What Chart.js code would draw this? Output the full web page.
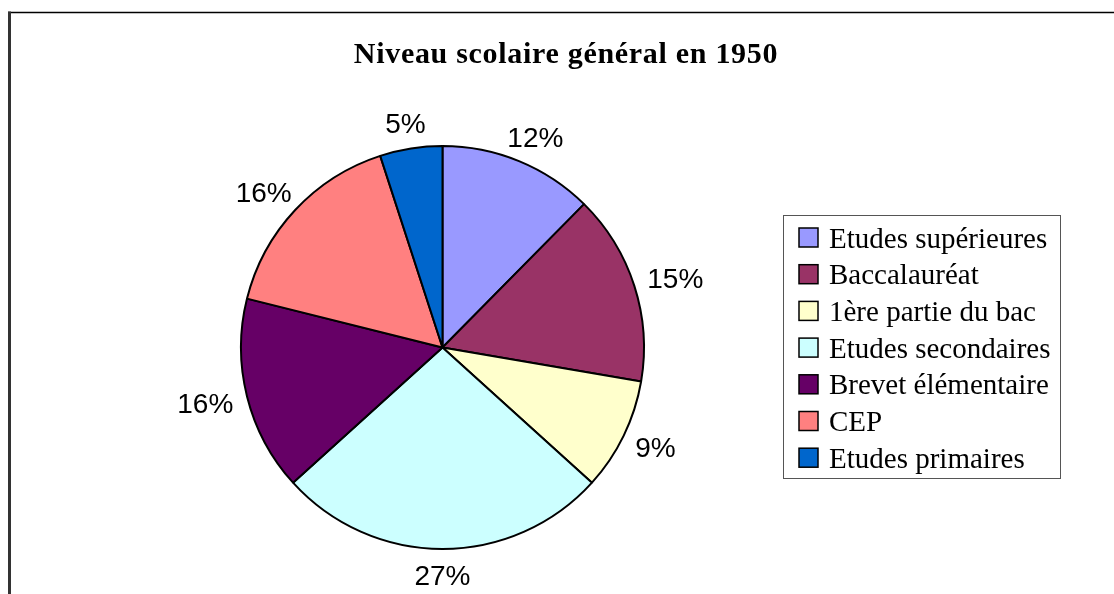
<!DOCTYPE html>
<html>
<head>
<meta charset="utf-8">
<script src="https://cdn.jsdelivr.net/npm/chart.js@4/dist/chart.umd.min.js"></script>
<style>
body{margin:0;background:#fff;}
</style>
</head>
<body>
<canvas id="myChart" width="1114" height="594"></canvas>
<script>
var chartTitle = 'Niveau scolaire général en 1950';
var labels = ['Etudes supérieures','Baccalauréat','1ère partie du bac','Etudes secondaires','Brevet élémentaire','CEP','Etudes primaires'];
var values = [12.4, 15.3, 9.0, 26.6, 15.6, 16.1, 5.0];
var colors = ['#9999FF','#993366','#FFFFCC','#CCFFFF','#660066','#FF8080','#0066CC'];

// frame, title, outside % labels and the boxed legend
var excelLook = {
    id: 'excelLook',
    beforeDraw: function(chart){
        var ctx = chart.ctx;
        ctx.save();
        ctx.fillStyle = '#fff';
        ctx.fillRect(0, 0, chart.width, chart.height);
        ctx.strokeStyle = '#000';
        ctx.lineWidth = 1.5;
        ctx.beginPath();
        ctx.moveTo(8, 12.5);
        ctx.lineTo(chart.width, 12.5);
        ctx.stroke();
        ctx.strokeStyle = '#333';
        ctx.lineWidth = 3;
        ctx.beginPath();
        ctx.moveTo(9.5, 11.5);
        ctx.lineTo(9.5, chart.height);
        ctx.stroke();
        ctx.restore();
    },
    afterDraw: function(chart){
        var ctx = chart.ctx;
        ctx.save();
        // title
        ctx.fillStyle = '#000';
        ctx.font = 'bold 30px "Liberation Serif", "Times New Roman", serif';
        ctx.letterSpacing = '0.7px';
        ctx.textAlign = 'center';
        ctx.textBaseline = 'alphabetic';
        ctx.fillText(chartTitle, 566, 63);
        ctx.letterSpacing = '0px';

        // percent labels
        var total = values.reduce(function(a, b){ return a + b; }, 0);
        var arcs = chart.getDatasetMeta(0).data;
        ctx.font = '28px "Liberation Sans", Arial, sans-serif';
        for(var i = 0; i < arcs.length; i++){
            var p = arcs[i].getProps(['x','y','startAngle','endAngle','outerRadius'], true);
            var mid = (p.startAngle + p.endAngle) / 2;
            var ux = Math.cos(mid), uy = Math.sin(mid);
            var txt = Math.round(values[i] / total * 100) + '%';
            var w = ctx.measureText(txt).width;
            var gap = 15;
            var cx = p.x + ux * (p.outerRadius + gap) + ux * w / 2;
            var cy = p.y + uy * (p.outerRadius + gap) + uy * 11;
            ctx.textAlign = 'center';
            ctx.fillText(txt, cx, cy + 10);
        }

        // legend
        var lx = 783.5, ly = 215.5, lw = 277, lh = 263;
        ctx.strokeStyle = '#555';
        ctx.lineWidth = 1;
        ctx.strokeRect(lx, ly, lw, lh);
        ctx.font = '29px "Liberation Serif", "Times New Roman", serif';
        ctx.textAlign = 'left';
        for(var j = 0; j < labels.length; j++){
            var rowY = 237.5 + j * 36.7;
            ctx.fillStyle = colors[j];
            ctx.fillRect(799, rowY - 9.5, 19, 19);
            ctx.strokeStyle = '#000';
            ctx.lineWidth = 1.5;
            ctx.strokeRect(799, rowY - 9.5, 19, 19);
            ctx.fillStyle = '#000';
            ctx.fillText(labels[j], 829, rowY + 10);
        }
        ctx.restore();
    }
};

var ctx = document.getElementById('myChart');
var myPieChart = new Chart(ctx, {
    type: 'pie',
    data: {
        labels: labels,
        datasets: [{
            label: chartTitle,
            data: values,
            backgroundColor: colors,
            borderColor: '#000',
            borderWidth: 2
        }]
    },
    options: {
        responsive: false,
        devicePixelRatio: 1,
        animation: false,
        layout: {
            padding: {left: 240, right: 469, top: 145, bottom: 44}
        },
        plugins: {
            legend: {display: false},
            tooltip: {enabled: false},
            title: {display: false}
        }
    },
    plugins: [excelLook]
});
</script>
</body>
</html>
